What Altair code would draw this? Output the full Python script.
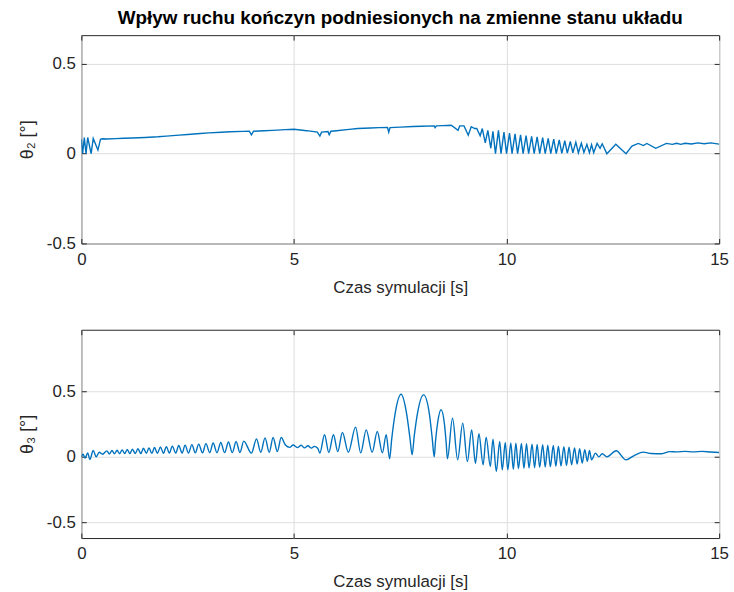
import altair as alt
import pandas as pd

# ---- data ----
x_ticks = [0, 5, 10, 15]
y_ticks = [-0.5, 0, 0.5]

# theta_2 (top panel)
t2 = [0, 0.03, 0.07, 0.11, 0.15, 0.23, 0.28, 0.39, 0.45, 0.5,
      0.6, 0.8, 1.0, 1.2, 1.5, 1.8, 2.0, 2.3, 2.5, 2.8, 3.0, 3.3, 3.5, 3.8, 3.95, 4.0, 4.05,
      4.3, 4.5, 4.8, 5.0, 5.3, 5.55, 5.61, 5.65, 5.8, 5.83, 5.87, 6.0, 6.3, 6.5, 6.8, 7.0,
      7.2, 7.23, 7.26, 7.5, 7.8, 8.0, 8.3, 8.32, 8.35, 8.5, 8.7, 8.86, 8.9, 9.0, 9.1, 9.17, 9.25,
      9.3, 9.38, 9.43, 9.5, 9.56, 9.63, 9.68, 9.74,
      9.81, 9.87, 9.94, 10.0, 10.07, 10.13, 10.2, 10.26, 10.33, 10.39, 10.46, 10.52,
      10.59, 10.65, 10.72, 10.78, 10.85, 10.91, 10.98, 11.04, 11.11, 11.17, 11.24, 11.3,
      11.37, 11.43, 11.5, 11.56, 11.63, 11.69, 11.76, 11.82, 11.89, 11.95, 12.0, 12.05,
      12.13, 12.2, 12.25, 12.36, 12.57, 12.81, 12.95, 13.1, 13.22, 13.3, 13.51, 13.76,
      13.9, 14.0, 14.1, 14.2, 14.35, 14.5, 14.65, 14.8, 15.0]
v2 = [0.08, 0.0, 0.09, 0.0, 0.09, 0.0, 0.085, 0.02, 0.08, 0.083,
      0.082, 0.084, 0.086, 0.087, 0.09, 0.094, 0.098, 0.103, 0.107, 0.112, 0.116, 0.119, 0.122, 0.124, 0.125, 0.105, 0.125,
      0.128, 0.13, 0.134, 0.136, 0.128, 0.12, 0.098, 0.12, 0.123, 0.105, 0.125, 0.128, 0.135, 0.14, 0.143, 0.145,
      0.146, 0.12, 0.145, 0.148, 0.151, 0.153, 0.155, 0.145, 0.155, 0.156, 0.158, 0.13, 0.155, 0.155, 0.103, 0.15, 0.14,
      0.14, 0.1, 0.14, 0.06, 0.13, 0.03, 0.125, 0.0,
      0.13, 0.0, 0.12, 0.0, 0.115, 0.0, 0.11, 0.0, 0.105, 0.0, 0.1, 0.0,
      0.097, 0.0, 0.093, 0.0, 0.09, 0.0, 0.085, 0.0, 0.081, 0.0, 0.077, 0.002,
      0.072, 0.003, 0.068, 0.005, 0.064, 0.005, 0.058, 0.007, 0.052, 0.005, 0.05, 0.005,
      0.057, 0.03, 0.055, 0.0, 0.053, 0.0, 0.042, 0.057, 0.045, 0.057, 0.03, 0.057,
      0.052, 0.058, 0.052, 0.058, 0.054, 0.06, 0.055, 0.06, 0.053]

# theta_3 (bottom panel)
t3 = [0, 0.04, 0.09, 0.15, 0.2, 0.28, 0.35, 0.42, 0.5,
      0.6, 0.66, 0.72, 0.78, 0.84, 0.9, 0.96, 1.02, 1.08, 1.14, 1.2, 1.27, 1.33, 1.4, 1.46, 1.53,
      1.59, 1.66, 1.72, 1.79, 1.86, 1.93, 2.0, 2.07, 2.14, 2.22, 2.29, 2.37, 2.44, 2.52, 2.6, 2.68,
      2.76, 2.85, 2.93, 3.02, 3.1, 3.19, 3.28, 3.37, 3.46, 3.55, 3.64, 3.73, 3.82,
      4.0, 4.12, 4.22, 4.32, 4.42, 4.51, 4.61, 4.7, 4.8,
      4.9, 4.98, 5.08, 5.17, 5.25, 5.33, 5.41, 5.48, 5.56, 5.61,
      5.72, 5.82, 5.93, 6.03, 6.14, 6.28, 6.45, 6.57, 6.70, 6.84, 6.96, 7.08, 7.17, 7.25,
      7.30, 7.38, 7.52, 7.65, 7.73, 7.78, 7.83, 7.91, 8.05, 8.18, 8.25, 8.30,
      8.33, 8.38, 8.46, 8.54, 8.58, 8.61, 8.73, 8.85, 8.97, 9.08, 9.18, 9.27, 9.35, 9.45,
      9.52, 9.62, 9.68, 9.76, 9.84, 9.90, 9.97,
      10.03, 10.1, 10.16, 10.22, 10.28, 10.35, 10.41, 10.47, 10.53, 10.6, 10.66, 10.72,
      10.78, 10.85, 10.91, 10.97, 11.03, 11.1, 11.16, 11.22, 11.28, 11.35, 11.41, 11.47,
      11.53, 11.6, 11.66, 11.72, 11.78, 11.84, 11.9, 11.95, 12.0,
      12.09, 12.17, 12.25, 12.36, 12.58, 12.81, 13.0, 13.22, 13.4, 13.65, 13.84, 14.0,
      14.2, 14.4, 14.6, 14.8, 15.0]
v3 = [0.0, 0.02, -0.01, 0.03, -0.02, 0.048, 0.0, 0.035, 0.02,
      0.045, 0.022, 0.048, 0.023, 0.05, 0.023, 0.053, 0.024, 0.056, 0.024, 0.058, 0.025, 0.062, 0.025, 0.065, 0.026,
      0.068, 0.026, 0.071, 0.027, 0.075, 0.027, 0.078, 0.028, 0.082, 0.028, 0.086, 0.029, 0.089, 0.029, 0.093, 0.03,
      0.097, 0.03, 0.101, 0.031, 0.105, 0.031, 0.109, 0.032, 0.113, 0.032, 0.117, 0.033, 0.12,
      0.028, 0.137, 0.035, 0.145, 0.035, 0.148, 0.04, 0.147, 0.09,
      0.072, 0.09, 0.07, 0.088, 0.068, 0.085, 0.066, 0.08, 0.066, 0.028,
      0.168, 0.033, 0.168, 0.04, 0.186, 0.035, 0.227, 0.03, 0.206, 0.035, 0.193, 0.03, 0.168, -0.015,
      0.137, 0.33, 0.478, 0.33, 0.14, 0.015, 0.16, 0.34, 0.473, 0.34, 0.15, 0.0,
      0.12, 0.26, 0.359, 0.25, 0.11, -0.015, 0.295, -0.023, 0.257, -0.036, 0.206, -0.05, 0.176, -0.061,
      0.15, -0.074, 0.135, -0.112, 0.117, -0.1, 0.109,
      -0.1, 0.106, -0.095, 0.104, -0.09, 0.102, -0.088, 0.1, -0.085, 0.097, -0.083, 0.095,
      -0.08, 0.092, -0.078, 0.089, -0.075, 0.086, -0.072, 0.082, -0.07, 0.078, -0.066, 0.073,
      -0.06, 0.068, -0.055, 0.062, -0.048, 0.055, -0.035, 0.048, -0.023,
      0.028, 0.0, 0.023, 0.0, 0.046, -0.023, 0.01, 0.036, 0.025, 0.023, 0.04, 0.038,
      0.042, 0.038, 0.042, 0.037, 0.033]

TITLE = "Wpływ ruchu kończyn podniesionych na zmienne stanu układu"
XTITLE = "Czas symulacji [s]"
FONT = "Liberation Sans"
TXT = "#262626"
LINE = "#0072BD"
GRID = "#dedede"


def panel(t, v, ydom, ytitle, interp, title=None):
    df = pd.DataFrame({"t": t, "v": v})
    base = alt.Chart(df)
    xs = alt.Scale(domain=[0, 15], nice=False, zero=False)
    ys = alt.Scale(domain=ydom, nice=False, zero=False)
    main = base.mark_line(color=LINE, strokeWidth=1.4, interpolate=interp, clip=True).encode(
        x=alt.X("t:Q", scale=xs, axis=alt.Axis(
            values=x_ticks, title=XTITLE, grid=True, gridColor=GRID, ticks=True,
            tickSize=5, tickColor=TXT, offset=-5, domain=False, labelPadding=8,
            labelFlush=False, labelExpr="'' + datum.value", titlePadding=12)),
        y=alt.Y("v:Q", scale=ys, axis=alt.Axis(
            values=y_ticks, title=ytitle, grid=True, gridColor=GRID, ticks=True,
            tickSize=5, tickColor=TXT, offset=-5, domain=False, labelPadding=6,
            labelFlush=False, labelExpr="'' + datum.value", titlePadding=10,
            titleFontSize=18)),
    )
    ghost = base.mark_line(strokeOpacity=0).encode(
        x=alt.X("t:Q", scale=xs, axis=alt.Axis(
            orient="top", values=x_ticks, labels=False, title=None, grid=False,
            ticks=True, tickSize=5, tickColor=TXT, offset=-5, domain=False)),
        y=alt.Y("v:Q", scale=ys, axis=alt.Axis(
            orient="right", values=y_ticks, labels=False, title=None, grid=False,
            ticks=True, tickSize=5, tickColor=TXT, offset=-5, domain=False)),
    )
    props = dict(width=643, height=210)
    if title:
        props["title"] = alt.TitleParams(title, font=FONT, fontSize=19, fontWeight="bold",
                                         color="#000000", frame="group", anchor="middle",
                                         offset=7)
    return alt.layer(main, ghost).resolve_axis(x="independent", y="independent").properties(**props)


top = panel(t2, v2, [-0.5, 0.66], "θ₂ [°]", "linear", TITLE)
bottom = panel(t3, v3, [-0.62, 0.97], "θ₃ [°]", "monotone")

chart = alt.vconcat(top, bottom, spacing=33).properties(
    padding={"left": 18, "top": 6, "right": 5, "bottom": 5},
    background="white",
).configure_view(stroke=TXT, strokeWidth=1).configure_axis(
    labelFont=FONT, labelFontSize=17, labelColor=TXT,
    titleFont=FONT, titleFontSize=17, titleFontWeight="normal", titleColor=TXT
)

chart.save("out.html", embed_options={"renderer": "svg", "actions": False})
